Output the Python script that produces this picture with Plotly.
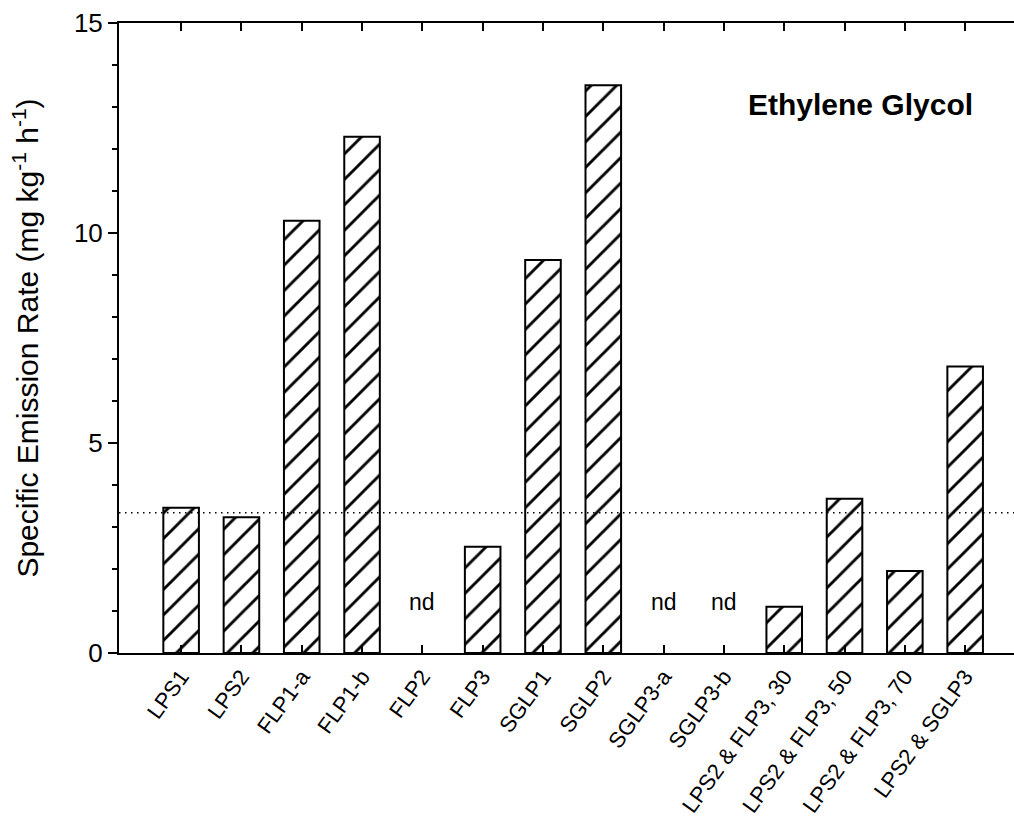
import plotly.graph_objects as go

# Sample labels and specific emission rates of ethylene glycol (mg kg^-1 h^-1)
samples = ["LPS1", "LPS2", "FLP1-a", "FLP1-b", "FLP2", "FLP3", "SGLP1", "SGLP2",
           "SGLP3-a", "SGLP3-b", "LPS2 & FLP3, 30", "LPS2 & FLP3, 50",
           "LPS2 & FLP3, 70", "LPS2 & SGLP3"]
# None marks "not detected"
emission = [3.46, 3.23, 10.29, 12.29, None, 2.53, 9.36, 13.52,
            None, None, 1.10, 3.67, 1.95, 6.82]
reference_level = 3.34
y_ticks = [0, 5, 10, 15]

FONT = "Arial, Liberation Sans, Helvetica, sans-serif"
xs = list(range(len(samples)))

fig = go.Figure()
fig.add_trace(go.Bar(
    x=xs, y=emission, width=0.59,
    marker=dict(
        color="white",
        line=dict(color="black", width=2),
        pattern=dict(shape="/", fgcolor="black", fgopacity=1, bgcolor="white",
                     size=18, solidity=0.16),
    ),
    showlegend=False,
    hoverinfo="skip",
))

# dotted reference line across the plot
fig.add_shape(type="line", xref="paper", x0=0, x1=1,
              y0=reference_level, y1=reference_level,
              line=dict(color="black", width=1.5, dash="1.5px,4.5px"))

# "nd" markers for samples with no detected emission
for i, v in zip(xs, emission):
    if v is None:
        fig.add_annotation(x=i, y=1.22, text="nd", showarrow=False,
                           font=dict(family=FONT, size=23, color="black"))

fig.add_annotation(xref="paper", yref="y", x=0.828, y=13.05,
                   xanchor="center", yanchor="middle",
                   text="<b>Ethylene Glycol</b>", showarrow=False,
                   font=dict(family=FONT, size=30, color="black"))

fig.update_layout(
    width=1014, height=819,
    margin=dict(l=119, r=0, t=23, b=166),
    paper_bgcolor="white", plot_bgcolor="white",
    font=dict(family=FONT, color="black"),
    bargap=0.4,
)
fig.update_xaxes(
    range=[-1.03, 13.81],
    tickmode="array", tickvals=xs, ticktext=samples,
    tickangle=-54,
    tickfont=dict(family=FONT, size=22, color="black"),
    ticks="inside", ticklen=8, tickwidth=1.5, tickcolor="black",
    showline=True, linecolor="black", linewidth=2, mirror="ticks",
    showgrid=False, zeroline=False, automargin=False,
)
fig.update_yaxes(
    range=[0, 15],
    tickmode="array", tickvals=y_ticks,
    tickfont=dict(family=FONT, size=26, color="black"),
    ticks="outside", ticklen=9, tickwidth=1.5, tickcolor="black",
    minor=dict(dtick=1, ticks="outside", ticklen=5, tickwidth=1.5,
               tickcolor="black", showgrid=False),
    showline=True, linecolor="black", linewidth=2,
    showgrid=False, zeroline=False, automargin=False,
    title=dict(text="Specific Emission Rate (mg kg<sup>-1</sup> h<sup>-1</sup>)",
               font=dict(family=FONT, size=30, color="black"), standoff=26),
)

fig.write_html("out.html")
